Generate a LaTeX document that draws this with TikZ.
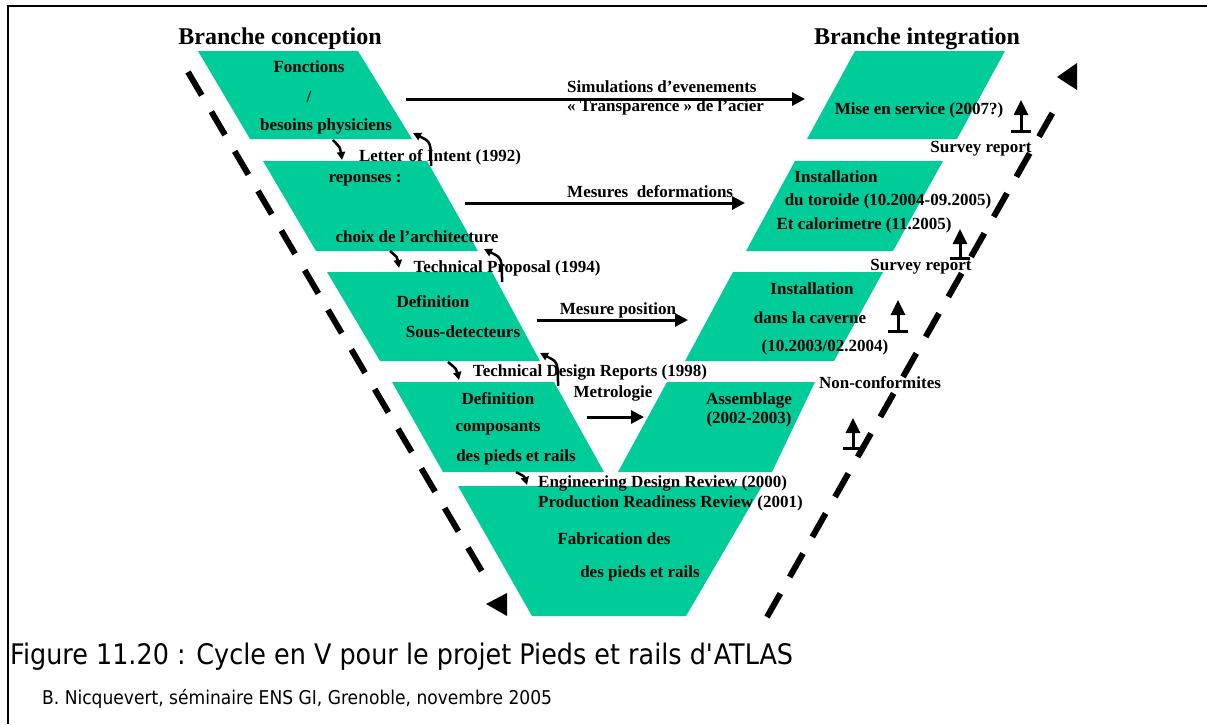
\documentclass[tikz,border=0pt]{standalone}
\usepackage{fontspec}
\setmainfont{Liberation Serif}
\newfontfamily\capfont[FakeStretch=0.9]{DejaVu Sans}
\usetikzlibrary{arrows.meta,calc}
\definecolor{vgreen}{RGB}{0,204,153}
\tikzset{
  lbl/.style={inner sep=0pt,font=\fontsize{17}{17}\selectfont\bfseries},
  ttl/.style={inner sep=0pt,font=\fontsize{24}{24}\selectfont\bfseries},
  flow/.style={line width=3pt,-{Triangle[length=13pt,width=13pt]}},
  hop/.style={line width=2.5pt,-{Triangle[length=8pt,width=8pt]}},
  chk/.style={line width=3pt,{Bar[width=20pt]}-{Triangle[length=15pt,width=14pt]}},
  vdash/.style={line width=6pt,dash pattern=on 27pt off 19pt},
}
\begin{document}
\begin{tikzpicture}[x=1pt,y=-1pt]
 \useasboundingbox (0,0) rectangle (1207,724);
 \draw[line width=2pt] (8,724) -- (8,6) -- (1207,6);
 \foreach \a/\b/\c/\d/\t/\u in {198/358/412/250/51/139,263/427/478/316/161/251,327/492/540/380/272/361,392/554/604/443/382/472,
   458/762/686/532/486/616,855/1005/957/807/51/139,795/943/893/746/161/251,733/883/834/685/272/361,667/815/772/618/382/472}
   \fill[vgreen] (\a,\t) -- (\b,\t) -- (\c,\u) -- (\d,\u) -- cycle;

 \node[ttl] (tconc) at (280,39) {Branche conception};
 \node[ttl] (tinteg) at (917,39) {Branche integration};

 \node[lbl] (f1) at (309,67) {Fonctions};
 \node[lbl] (f2) at (309,97) {/};
 \node[lbl] (f3) at (326,126) {besoins physiciens};
 \node[lbl] (r1) at (365,180) {reponses :};
 \node[lbl] (r2) at (417,237) {choix de l’architecture};
 \node[lbl] (d1) at (433,302) {Definition};
 \node[lbl] (d2) at (463,332) {Sous-detecteurs};
 \node[lbl] (c1) at (498,399) {Definition};
 \node[lbl] (c2) at (498,429) {composants};
 \node[lbl] (c3) at (516,457) {des pieds et rails};
 \node[lbl] (b1) at (614,539) {Fabrication des};
 \node[lbl] (b2) at (640,573) {des pieds et rails};
 \node[lbl] (m1) at (919,110) {Mise en service (2007?)};
 \node[lbl] (i1) at (836,177) {Installation};
 \node[lbl] (i2) at (888,201) {du toroide (10.2004-09.2005)};
 \node[lbl] (i3) at (864,225) {Et calorimetre (11.2005)};
 \node[lbl] (k1) at (812,289) {Installation};
 \node[lbl] (k2) at (810,318) {dans la caverne};
 \node[lbl] (k3) at (825,347) {(10.2003/02.2004)};
 \node[lbl] (a1) at (749,400) {Assemblage};
 \node[lbl] (a2) at (749,419) {(2002-2003)};

 \node[lbl] (loi) at (440,157) {Letter of Intent (1992)};
 \node[lbl] (tp) at (507,268) {Technical Proposal (1994)};
 \node[lbl] (tdr) at (590,372) {Technical Design Reports (1998)};
 \node[lbl,anchor=west] (edr) at (538,483) {Engineering Design Review (2000)};
 \node[lbl,anchor=west] (prr) at (538,503) {Production Readiness Review (2001)};
 \node[lbl,anchor=west] (sim) at (567,87) {Simulations d’evenements};
 \node[lbl,anchor=west] (tra) at (567,107) {« Transparence » de l’acier};
 \node[lbl,anchor=west] (mdef) at (567,192) {Mesures~~deformations};
 \node[lbl] (mpos) at (618,310) {Mesure position};
 \node[lbl] (metro) at (613,393) {Metrologie};
 \node[lbl] (sr1) at (981,149) {Survey report};
 \node[lbl] (sr2) at (921,267) {Survey report};
 \node[lbl] (nc) at (880,383) {Non-conformites};

 \coordinate (h1a) at (406,99);  \coordinate (h1b) at (805,99);
 \coordinate (h2a) at (465,203); \coordinate (h2b) at (745,203);
 \coordinate (h3a) at (537,320); \coordinate (h3b) at (688,320);
 \coordinate (h4a) at (587,417); \coordinate (h4b) at (644,417);
 \foreach \i in {1,...,4} \draw[flow] (h\i a) -- (h\i b);

 \coordinate (p1a) at (333,140); \coordinate (p1b) at (342,160);
 \coordinate (p2a) at (390,251); \coordinate (p2b) at (399,268);
 \coordinate (p3a) at (448,362); \coordinate (p3b) at (459,380);
 \coordinate (p4a) at (516,472); \coordinate (p4b) at (527,485);
 \foreach \i in {1,...,4} \draw[hop] (p\i a) .. controls ($(p\i a)!0.5!(p\i b)+(3,-2)$) .. (p\i b);
 \coordinate (q1a) at (431,166); \coordinate (q1b) at (413,133);
 \coordinate (q2a) at (502,282); \coordinate (q2b) at (484,249);
 \coordinate (q3a) at (558,386); \coordinate (q3b) at (540,353);
 \foreach \i in {1,...,3} \draw[hop] (q\i a) .. controls ($(q\i a)+(0,-24)$) .. (q\i b);

 \coordinate (u1a) at (1021,133); \coordinate (u1b) at (1021,100);
 \coordinate (u2a) at (960,260);  \coordinate (u2b) at (960,229);
 \coordinate (u3a) at (898,333);  \coordinate (u3b) at (898,300);
 \coordinate (u4a) at (853,450);  \coordinate (u4b) at (853,418);
 \foreach \i in {1,...,4} \draw[chk] (u\i a) -- (u\i b);

 \coordinate (va) at (188,72);  \coordinate (vb) at (487,580);
 \coordinate (wa) at (767,617); \coordinate (wb) at (1057,105);
 \draw[vdash] (va) -- (vb);
 \draw[vdash] (wa) -- (wb);
 \fill (486,604) -- (507,593) -- (507,616) -- cycle;
 \fill (1057,77) -- (1077,63) -- (1077,90) -- cycle;

 \node[anchor=base west,inner sep=0pt,font=\capfont\fontsize{28.3}{28.3}\selectfont] (cap) at (10,664)
   {Figure 11.20 : Cycle en V pour le projet Pieds et rails d\textquotesingle ATLAS};
 \node[anchor=base west,inner sep=0pt,font=\capfont\fontsize{19}{19}\selectfont] (src) at (42,704)
   {B. Nicquevert, séminaire ENS GI, Grenoble, novembre 2005};
\end{tikzpicture}
\end{document}
